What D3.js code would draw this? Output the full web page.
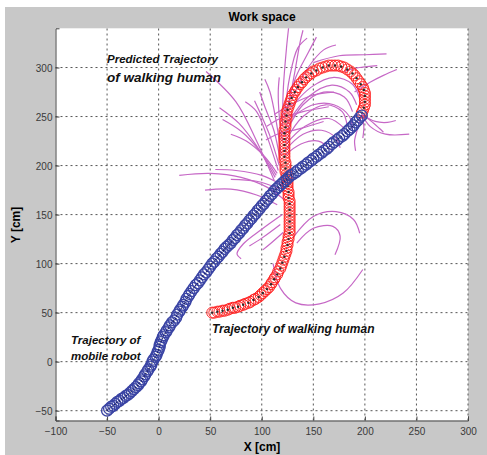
<!DOCTYPE html>
<html>
<head>
<meta charset="utf-8">
<script src="https://cdn.jsdelivr.net/npm/d3@7"></script>
<style>
  body { margin: 0; background: #fff; }
  text { font-family: "Liberation Sans", Arial, sans-serif; }
</style>
</head>
<body>
<div id="chartContainer"></div>
<script>
// tick values
var xTicks = [-100, -50, 0, 50, 100, 150, 200, 250, 300];
var yTicks = [-50, 0, 50, 100, 150, 200, 250, 300];

// mobile robot trajectory [x, y] in cm
var robotPath = [
  [-50,-50],[-48,-48],[-46,-46],[-44,-45],[-42,-43],[-40,-41],[-38,-40],[-36,-38],
  [-34,-37],[-32,-35],[-30,-34],[-28,-32],[-26,-30],[-24,-28],[-22,-26],[-20,-24],
  [-19,-22],[-17,-20],[-16,-18],[-14,-15],[-13,-13],[-11,-10],[-10,-8],[-8,-5],
  [-7,-3],[-6,0],[-5,2],[-3,5],[-2,7],[-1,10],[0,12],[1,15],[1,17],[2,20],[3,22],
  [4,25],[5,27],[7,30],[8,32],[10,35],[11,37],[13,40],[15,42],[17,45],[18,48],
  [20,51],[21,53],[23,56],[24,58],[26,61],[27,64],[29,67],[30,69],[32,72],[34,75],
  [36,78],[38,80],[40,83],[42,86],[44,89],[46,91],[48,94],[50,97],[52,100],[54,102],
  [56,105],[58,107],[60,110],[62,112],[64,115],[66,117],[68,119],[70,121],[72,124],
  [74,126],[76,129],[78,131],[80,134],[82,136],[84,139],[86,141],[88,144],[90,146],
  [92,149],[94,151],[96,154],[98,156],[100,159],[102,161],[104,164],[106,166],
  [108,169],[110,171],[112,174],[114,176],[116,178],[118,180],[120,182],[122,184],
  [124,186],[126,188],[128,190],[130,191],[133,193],[135,195],[138,197],[140,199],
  [143,201],[145,203],[148,205],[150,207],[153,209],[155,211],[158,213],[160,215],
  [163,217],[165,219],[168,222],[170,224],[173,226],[175,228],[178,230],[180,232],
  [183,235],[185,237],[187,239],[189,241],[191,244],[193,246],[195,249],[197,251]
];

// walking human trajectory [x, y] in cm
var humanPath = [
  [52,50],[54,50],[57,51],[59,51],[62,52],[64,52],[67,53],[69,54],[72,55],[74,55],
  [77,56],[79,57],[82,58],[84,59],[87,60],[89,61],[92,63],[94,64],[97,66],[99,68],
  [101,70],[103,72],[105,74],[107,76],[109,79],[110,81],[112,84],[113,86],[115,89],
  [116,92],[118,95],[119,98],[120,101],[121,104],[122,107],[123,110],[124,113],
  [124,116],[125,119],[125,122],[126,125],[126,128],[127,131],[127,134],[127,137],
  [127,140],[127,143],[127,146],[127,149],[127,152],[127,155],[127,158],[127,161],
  [127,164],[126,167],[126,170],[126,173],[125,176],[125,179],[125,182],[125,185],
  [124,188],[124,191],[123,194],[123,197],[123,200],[123,203],[122,206],[122,209],
  [122,212],[122,215],[122,218],[122,221],[122,224],[122,227],[122,230],[122,233],
  [122,236],[123,239],[123,242],[123,245],[124,248],[124,251],[124,254],[125,257],
  [126,260],[127,263],[128,266],[129,269],[130,272],[132,275],[133,277],[135,280],
  [137,283],[139,285],[141,288],[143,290],[145,292],[148,294],[150,296],[153,297],
  [156,299],[159,300],[162,301],[165,302],[168,302],[171,302],[174,302],[177,301],
  [180,300],[183,298],[186,296],[188,294],[190,292],[192,289],[194,286],[196,283],
  [198,280],[199,277],[200,274],[200,271],[200,268],[200,265],[200,262],[199,259],
  [198,256],[197,254]
];

// predicted trajectories of the walking human
var predicted = [
  // lower curls
  [[111,100],[118,75],[133,60],[156,59],[179,70],[198,94]],
  [[130,126],[150,148],[172,153],[189,145],[195,131]],
  [[134,121],[150,136],[169,138],[176,128],[171,109]],
  [[120,150],[100,135],[82,120],[76,110],[80,105]],
  [[118,140],[100,126],[88,118]],
  [[121,132],[108,120],[101,114]],
  // left of the crossing
  [[122,165],[105,178],[80,188],[50,192],[20,190]],
  [[115,160],[95,170],[70,176],[45,175]],
  [[120,180],[100,190],[75,195],[55,196]],
  [[118,176],[95,184],[70,186]],
  // upper left fan
  [[112,185],[95,225],[75,265],[46,296]],
  [[113,188],[95,220],[78,243],[59,259]],
  [[114,190],[98,215],[80,235],[62,247]],
  [[115,192],[102,210],[85,225],[70,232]],
  [[116,195],[105,230],[95,255],[84,265]],
  [[117,200],[108,230],[100,250],[93,266]],
  [[118,205],[112,235],[103,260],[98,275]],
  [[119,210],[114,245],[108,275],[103,288]],
  [[120,225],[117,250],[116,275],[117,290]],
  // going up
  [[120,240],[121,280],[124,320],[126,340]],
  [[122,250],[127,290],[135,320],[144,330]],
  [[124,255],[133,290],[145,315],[153,331]],
  [[130,270],[145,300],[160,318],[172,323]],
  [[126,262],[132,295],[137,325],[140,338]],
  // curls inside the loop
  [[122,230],[140,262],[160,275],[180,270],[188,255]],
  [[123,225],[140,250],[162,262],[178,255],[183,240]],
  [[122,220],[142,240],[165,248],[180,238]],
  [[123,240],[145,270],[168,282],[185,275],[192,262]],
  [[125,255],[148,280],[170,290],[188,283],[195,268]],
  [[122,215],[140,232],[158,236],[172,228],[176,218]],
  [[124,245],[150,262],[170,262],[185,250],[188,235]],
  [[122,210],[138,222],[155,225],[168,215]],
  [[165,260],[140,255],[118,248],[105,240]],
  [[160,245],[138,238],[115,232],[104,226]],
  [[170,275],[150,272],[128,262],[112,252]],
  // around the robot's end point
  [[197,252],[205,240],[220,232],[243,232]],
  [[197,252],[193,238],[190,225],[191,215]],
  [[197,252],[199,240],[198,228]],
  [[197,252],[210,245],[222,244],[230,246]],
  [[197,252],[203,248],[214,238],[218,234]],
  // to the right above the loop
  [[150,305],[175,312],[200,313],[221,314]],
  [[190,275],[205,285],[218,292],[231,298]],
  [[180,296],[195,300],[212,302]]
];

var width = 487, height = 455;
var svg = d3.select("#chartContainer").append("svg")
  .attr("width", width)
  .attr("height", height);

// grey figure background
svg.append("rect")
  .attr("x", 5).attr("y", 7)
  .attr("width", width - 5).attr("height", height - 7)
  .attr("fill", "#c8c8c8");

var x = d3.scaleLinear().domain([-100, 300]).range([55.5, 468]);
var y = d3.scaleLinear().domain([-60, 340]).range([420.5, 28.3]);

svg.append("rect")
  .attr("x", x(-100)).attr("y", y(340))
  .attr("width", x(300) - x(-100)).attr("height", y(-60) - y(340))
  .attr("fill", "#fff");

// dotted grid
var grid = svg.append("g")
  .attr("stroke", "#555")
  .attr("stroke-width", 1)
  .attr("stroke-dasharray", "2,3");
grid.selectAll("line.gx").data(xTicks.slice(1)).enter().append("line")
  .attr("x1", function(d){ return x(d); }).attr("x2", function(d){ return x(d); })
  .attr("y1", y(-60)).attr("y2", y(340));
grid.selectAll("line.gy").data(yTicks).enter().append("line")
  .attr("x1", x(-100)).attr("x2", x(300))
  .attr("y1", function(d){ return y(d); }).attr("y2", function(d){ return y(d); });

// axes, ticks inward
var xAxis = svg.append("g")
  .attr("transform", "translate(0," + y(-60) + ")")
  .call(d3.axisTop(x).tickValues(xTicks).tickSize(4).tickPadding(-14));
var yAxis = svg.append("g")
  .attr("transform", "translate(" + x(-100) + ",0)")
  .call(d3.axisRight(y).tickValues(yTicks).tickSize(4).tickPadding(-7));
yAxis.selectAll("text").attr("text-anchor", "end").attr("dy", "0.35em");
xAxis.selectAll("text").attr("dy", "0");
[xAxis, yAxis].forEach(function(a){
  a.select(".domain").attr("stroke", "#444");
  a.selectAll(".tick line").attr("stroke", "#444");
  a.selectAll("text")
    .attr("fill", "#3a3a3a")
    .style("font-size", "10px")
    .style("font-family", "'Liberation Sans', Arial, sans-serif");
});
xAxis.selectAll("text").attr("y", 14);
yAxis.selectAll("text").attr("x", -3);

var line = d3.line()
  .x(function(d){ return x(d[0]); })
  .y(function(d){ return y(d[1]); })
  .curve(d3.curveCatmullRom);

var plot = svg.append("g");

// predicted trajectories
plot.selectAll("path.pred").data(predicted).enter().append("path")
  .attr("class", "pred")
  .attr("d", line)
  .attr("fill", "none")
  .attr("stroke", "#c668c6")
  .attr("stroke-width", 1.2);

// human trajectory: red circles with dark centres
plot.selectAll("circle.human").data(humanPath).enter().append("circle")
  .attr("class", "human")
  .attr("cx", function(d){ return x(d[0]); })
  .attr("cy", function(d){ return y(d[1]); })
  .attr("r", 5.5)
  .attr("fill", "none")
  .attr("stroke", "#ff2626")
  .attr("stroke-width", 1);
plot.selectAll("circle.hdot").data(humanPath.filter(function(d, i){ return i % 2 === 0; }))
  .enter().append("circle")
  .attr("class", "hdot")
  .attr("cx", function(d){ return x(d[0]); })
  .attr("cy", function(d){ return y(d[1]); })
  .attr("r", 1.2)
  .attr("fill", "#2a2a2a");

// robot trajectory: blue circles with dark centre line
plot.selectAll("circle.robot").data(robotPath).enter().append("circle")
  .attr("class", "robot")
  .attr("cx", function(d){ return x(d[0]); })
  .attr("cy", function(d){ return y(d[1]); })
  .attr("r", 5.5)
  .attr("fill", "none")
  .attr("stroke", "#3a44a4")
  .attr("stroke-width", 1.3);
plot.append("path")
  .datum(robotPath)
  .attr("d", line)
  .attr("fill", "none")
  .attr("stroke", "#1c2060")
  .attr("stroke-width", 1.2)
  .attr("stroke-dasharray", "1.5,1.5");

// titles
svg.append("text")
  .attr("x", 262).attr("y", 21)
  .attr("text-anchor", "middle")
  .style("font-size", "12px").style("font-weight", "bold")
  .text("Work space");
svg.append("text")
  .attr("x", 262).attr("y", 451)
  .attr("text-anchor", "middle")
  .style("font-size", "12px").style("font-weight", "bold")
  .text("X [cm]");
svg.append("text")
  .attr("transform", "translate(20,225) rotate(-90)")
  .attr("text-anchor", "middle")
  .style("font-size", "12px").style("font-weight", "bold")
  .text("Y [cm]");

// annotations
var notes = [
  {t: "Predicted Trajectory", x: 107, y: 63, s: 11.5},
  {t: "of walking human", x: 107, y: 82, s: 13.5},
  {t: "Trajectory of walking human", x: 212, y: 333, s: 12},
  {t: "Trajectory of", x: 71, y: 344, s: 11.5},
  {t: "mobile robot", x: 71, y: 360, s: 11.5}
];
svg.selectAll("text.note").data(notes).enter().append("text")
  .attr("class", "note")
  .attr("x", function(d){ return d.x; })
  .attr("y", function(d){ return d.y; })
  .style("font-size", function(d){ return d.s + "px"; })
  .style("font-weight", "bold")
  .style("font-style", "italic")
  .attr("fill", "#111")
  .text(function(d){ return d.t; });
</script>
</body>
</html>
